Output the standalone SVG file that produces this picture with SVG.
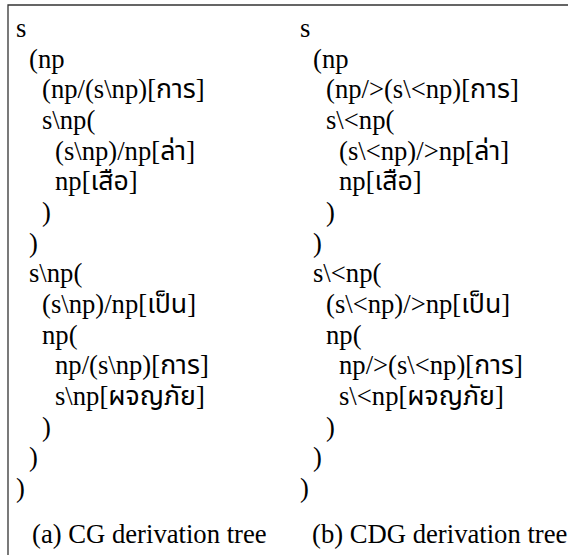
<svg xmlns="http://www.w3.org/2000/svg" width="568" height="555" viewBox="0 0 568 555">
<style>
text{font-family:"Liberation Serif","Noto Sans Thai","Noto Serif Thai","Tahoma","DejaVu Sans",serif;font-size:26.67px;fill:#000}
.frame{stroke:#333;stroke-width:1.3;fill:none}
</style>
<rect width="568" height="555" fill="#fff"/>
<path class="frame" d="M8,555 V5 H568"/>
<g id="cg-tree">
<text x="16" y="37">s</text>
<text x="29" y="68">(np</text>
<text x="42" y="98">(np/(s\np)[การ]</text>
<text x="42" y="129">s\np(</text>
<text x="55" y="160">(s\np)/np[ล่า]</text>
<text x="55" y="190">np[เสือ]</text>
<text x="42" y="221">)</text>
<text x="29" y="252">)</text>
<text x="29" y="282">s\np(</text>
<text x="42" y="313">(s\np)/np[เป็น]</text>
<text x="42" y="344">np(</text>
<text x="55" y="374">np/(s\np)[การ]</text>
<text x="55" y="405">s\np[ผจญภัย]</text>
<text x="42" y="436">)</text>
<text x="29" y="466">)</text>
<text x="16" y="497">)</text>
<text x="32" y="543">(a) CG derivation tree</text>
</g>
<g id="cdg-tree">
<text x="300" y="37">s</text>
<text x="313" y="68">(np</text>
<text x="326" y="98">(np/&gt;(s\&lt;np)[การ]</text>
<text x="326" y="129">s\&lt;np(</text>
<text x="339" y="160">(s\&lt;np)/&gt;np[ล่า]</text>
<text x="339" y="190">np[เสือ]</text>
<text x="326" y="221">)</text>
<text x="313" y="252">)</text>
<text x="313" y="282">s\&lt;np(</text>
<text x="326" y="313">(s\&lt;np)/&gt;np[เป็น]</text>
<text x="326" y="344">np(</text>
<text x="339" y="374">np/&gt;(s\&lt;np)[การ]</text>
<text x="339" y="405">s\&lt;np[ผจญภัย]</text>
<text x="326" y="436">)</text>
<text x="313" y="466">)</text>
<text x="300" y="497">)</text>
<text x="312" y="543">(b) CDG derivation tree</text>
</g>
</svg>
